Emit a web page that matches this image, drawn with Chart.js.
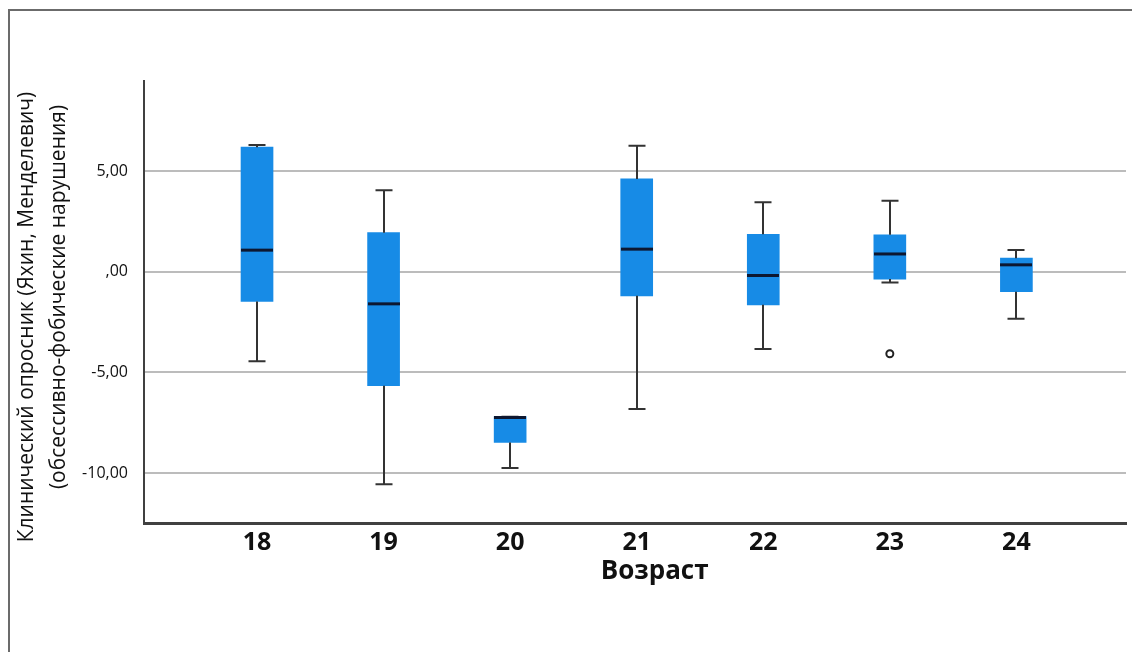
<!DOCTYPE html>
<html lang="ru">
<head>
<meta charset="utf-8">
<title>Возраст — клинический опросник</title>
<script src="https://cdn.jsdelivr.net/npm/chart.js@4.4.1/dist/chart.umd.min.js"></script>
<style>
  html, body { margin: 0; padding: 0; background: #ffffff; }
  #wrap { width: 1132px; height: 652px; position: relative; }
</style>
</head>
<body>
<div id="wrap"><canvas id="chart" width="1132" height="652"></canvas></div>
<script>
// Age groups and box-plot summaries of the obsessive-phobic scale score
const ages        = [18, 19, 20, 21, 22, 23, 24];
const whiskerLow  = [-4.45, -10.56, -9.75, -6.82, -3.84, -0.53, -2.33];
const quartile1   = [-1.47, -5.66, -8.48, -1.19, -1.64, -0.36, -0.99];
const medians     = [1.08, -1.59, -7.24, 1.13, -0.18, 0.89, 0.35];
const quartile3   = [6.20, 1.95, -7.20, 4.62, 1.87, 1.84, 0.68];
const whiskerHigh = [6.31, 4.06, -7.20, 6.27, 3.46, 3.54, 1.09];

// Outlying observations
const outlierAges   = [23];
const outlierValues = [-4.07];

// Axis ticks and titles
const yTickValues = [-10, -5, 0, 5];
const yTickLabels = ['-10,00', '-5,00', ',00', '5,00'];
const xTickLabels = ['18', '19', '20', '21', '22', '23', '24'];
const xTitle = 'Возраст';
const yTitleLines = ['Клинический опросник (Яхин, Менделевич)', '(обсессивно-фобические нарушения)'];

const BOX_COLOR = '#178be6';
const BOX_WIDTH = 32;
const CAP_WIDTH = 17;
const FONT = '"Open Sans", "Noto Sans", "DejaVu Sans", sans-serif';

// Outer frame (top and left edges)
const framePlugin = {
  id: 'frame',
  beforeDraw(chart) {
    const ctx = chart.ctx;
    ctx.save();
    ctx.fillStyle = '#ffffff';
    ctx.fillRect(0, 0, chart.width, chart.height);
    ctx.strokeStyle = '#6b6b6b';
    ctx.lineWidth = 2;
    ctx.beginPath();
    ctx.moveTo(9, chart.height);
    ctx.lineTo(9, 10);
    ctx.lineTo(chart.width, 10);
    ctx.stroke();
    ctx.restore();
  }
};

// Whiskers, caps and median lines, placed through the chart scales
const boxPlotPlugin = {
  id: 'boxWhiskers',
  afterDatasetsDraw(chart) {
    const ctx = chart.ctx;
    const xs = chart.scales.x;
    const ys = chart.scales.y;
    ctx.save();
    ages.forEach((age, i) => {
      const cx = Math.round(xs.getPixelForValue(age));
      const yLow = ys.getPixelForValue(whiskerLow[i]);
      const yQ1 = ys.getPixelForValue(quartile1[i]);
      const yQ3 = ys.getPixelForValue(quartile3[i]);
      const yHigh = ys.getPixelForValue(whiskerHigh[i]);
      const yMed = ys.getPixelForValue(medians[i]);

      ctx.strokeStyle = '#333333';
      ctx.lineWidth = 2;
      ctx.beginPath();
      if (yHigh < yQ3) { ctx.moveTo(cx, yQ3); ctx.lineTo(cx, yHigh); }
      if (yLow > yQ1) { ctx.moveTo(cx, yQ1); ctx.lineTo(cx, yLow); }
      ctx.moveTo(cx - CAP_WIDTH / 2, yHigh); ctx.lineTo(cx + CAP_WIDTH / 2, yHigh);
      ctx.moveTo(cx - CAP_WIDTH / 2, yLow); ctx.lineTo(cx + CAP_WIDTH / 2, yLow);
      ctx.stroke();

      ctx.strokeStyle = '#0d1730';
      ctx.lineWidth = 3;
      ctx.beginPath();
      ctx.moveTo(cx - BOX_WIDTH / 2, yMed);
      ctx.lineTo(cx + BOX_WIDTH / 2, yMed);
      ctx.stroke();
    });
    ctx.restore();
  }
};

// Axis titles, positioned relative to the plot area
const axisTitlePlugin = {
  id: 'axisTitles',
  afterDraw(chart) {
    const ctx = chart.ctx;
    const area = chart.chartArea;
    ctx.save();
    ctx.fillStyle = '#111111';
    ctx.textAlign = 'center';
    ctx.textBaseline = 'middle';

    ctx.font = 'bold 26px ' + FONT;
    ctx.fillText(xTitle, area.left + (area.right - area.left) * 0.52, area.bottom + 49);

    ctx.font = '21px ' + FONT;
    const midY = (area.top + area.bottom) / 2;
    const lines = [
      { text: yTitleLines[0], x: 27, y: midY + 15 },
      { text: yTitleLines[1], x: 59, y: midY - 5 }
    ];
    lines.forEach(l => {
      ctx.save();
      ctx.translate(l.x, l.y);
      ctx.rotate(-Math.PI / 2);
      ctx.fillText(l.text, 0, 0);
      ctx.restore();
    });
    ctx.restore();
  }
};

new Chart(document.getElementById('chart'), {
  type: 'bar',
  data: {
    datasets: [
      {
        type: 'bar',
        label: 'Box',
        data: ages.map((a, i) => ({ x: a, y: [quartile1[i], quartile3[i]] })),
        backgroundColor: BOX_COLOR,
        borderWidth: 0,
        barThickness: BOX_WIDTH,
        order: 2
      },
      {
        type: 'scatter',
        label: 'Outliers',
        data: outlierAges.map((a, i) => ({ x: a, y: outlierValues[i] })),
        pointStyle: 'circle',
        pointRadius: 3.5,
        pointBorderWidth: 2,
        pointBorderColor: '#222222',
        pointBackgroundColor: '#ffffff',
        order: 1
      }
    ]
  },
  options: {
    responsive: false,
    animation: false,
    events: [],
    layout: { padding: { top: 81, right: 2, bottom: 0, left: 0 } },
    plugins: {
      legend: { display: false },
      tooltip: { enabled: false },
      title: { display: false }
    },
    scales: {
      x: {
        type: 'linear',
        min: 17.107,
        max: 24.866,
        offset: false,
        afterFit(scale) { scale.height = 129; },
        afterBuildTicks(scale) { scale.ticks = ages.map(v => ({ value: v })); },
        grid: { display: false, drawTicks: false, offset: false },
        border: { display: true, color: '#404040', width: 3 },
        ticks: {
          autoSkip: false,
          maxRotation: 0,
          padding: 5,
          color: '#111111',
          font: { family: FONT, size: 25, weight: 'bold' },
          callback(value) {
            const i = ages.indexOf(value);
            return i >= 0 ? xTickLabels[i] : '';
          }
        },
        title: { display: false }
      },
      y: {
        type: 'linear',
        min: -12.486,
        max: 9.49,
        afterFit(scale) { scale.width = 144; },
        afterBuildTicks(scale) { scale.ticks = yTickValues.map(v => ({ value: v })); },
        grid: { display: true, drawTicks: false, color: '#bcbcbc', lineWidth: 2 },
        border: { display: true, color: '#404040', width: 2 },
        ticks: {
          padding: 16,
          color: '#111111',
          font: { family: FONT, size: 16 },
          callback(value) {
            const i = yTickValues.indexOf(value);
            return i >= 0 ? yTickLabels[i] : '';
          }
        },
        title: { display: false }
      }
    }
  },
  plugins: [framePlugin, boxPlotPlugin, axisTitlePlugin]
});
</script>
</body>
</html>
